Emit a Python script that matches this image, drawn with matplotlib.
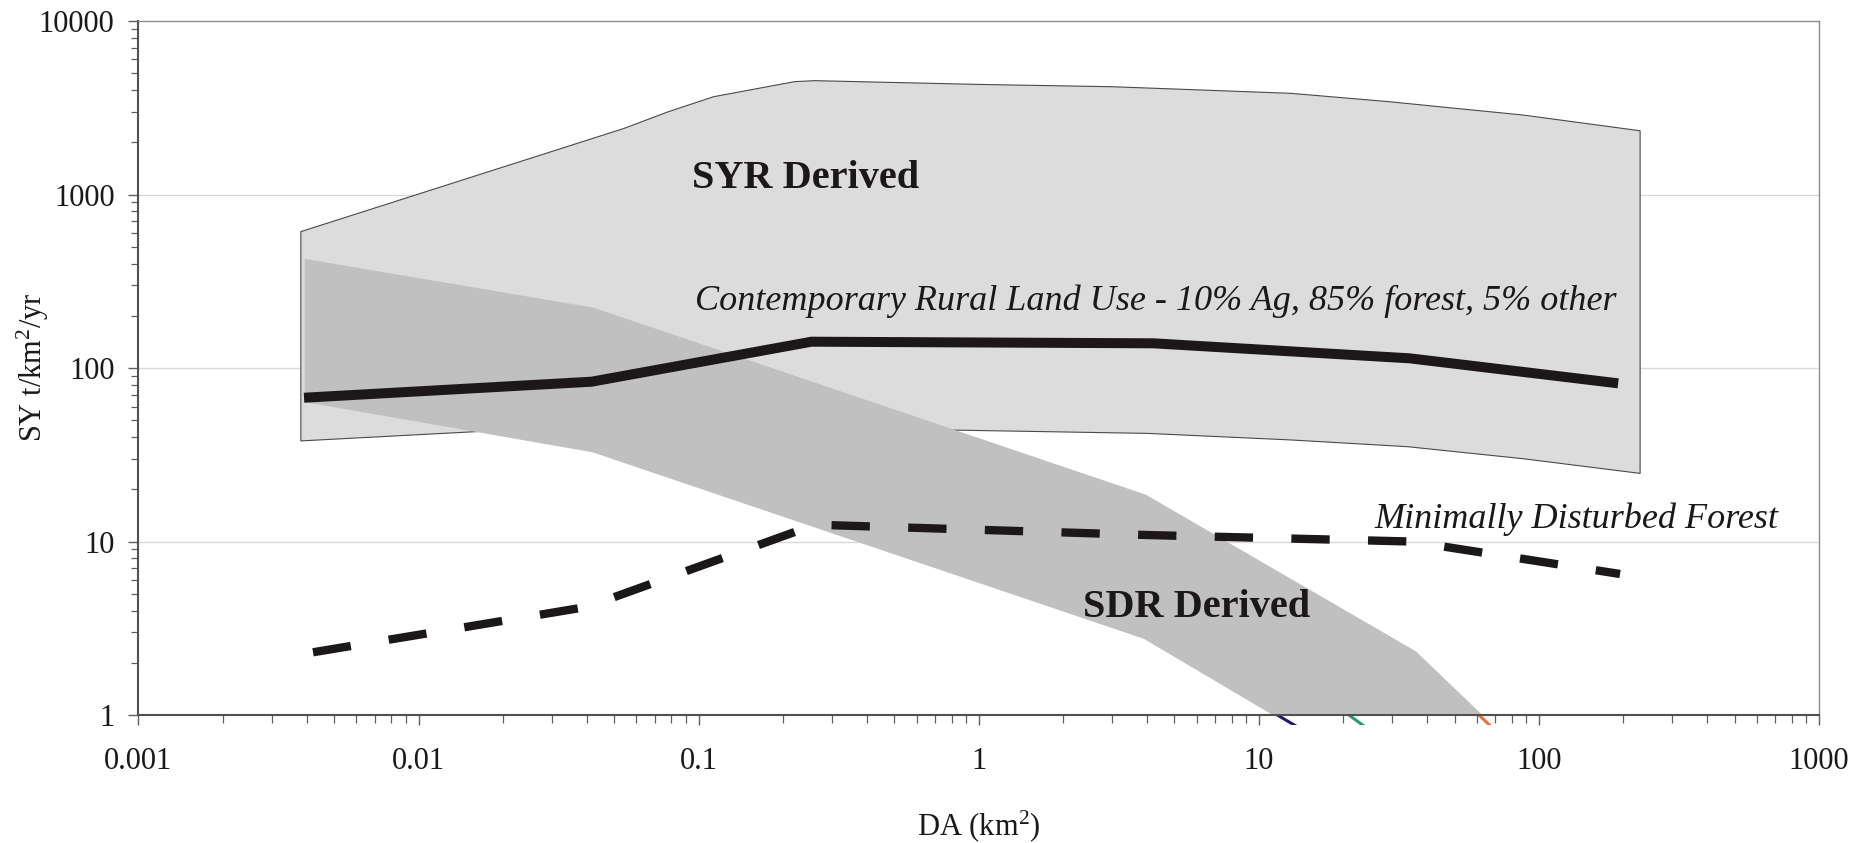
import matplotlib
matplotlib.use("Agg")
import matplotlib.pyplot as plt
from matplotlib.ticker import FixedLocator, FixedFormatter, LogLocator, NullFormatter
from matplotlib.transforms import Bbox, TransformedBbox

plt.rcParams['font.family'] = ['Liberation Serif', 'DejaVu Serif']
plt.rcParams['mathtext.fontset'] = 'custom'
plt.rcParams['mathtext.rm'] = 'Liberation Serif'
plt.rcParams['mathtext.it'] = 'Liberation Serif:italic'
plt.rcParams['mathtext.bf'] = 'Liberation Serif:bold'

# SYR derived envelope (upper / lower edges)
syr_up_da = [0.0038, 0.054, 0.078, 0.113, 0.22, 0.26, 1.0, 3.0, 13, 29, 88, 230]
syr_up_sy = [611, 2400, 3000, 3660, 4470, 4530, 4310, 4180, 3830, 3430, 2870, 2330]
syr_lo_da = [0.0038, 0.0175, 0.79, 4.0, 13, 34, 88, 230]
syr_lo_sy = [38, 43.3, 43.9, 42, 38.5, 35.2, 30, 24.7]

# SDR derived band (three series)
sdr_up_da = [0.004, 0.042, 3.92, 36, 200]
sdr_up_sy = [410, 216, 18.1, 2.27, 0.16]
sdr_mid_da = [0.004, 0.042, 3.92, 35]
sdr_mid_sy = [165, 85, 7.1, 0.55]
sdr_lo_da = [0.004, 0.042, 3.92, 35]
sdr_lo_sy = [65.4, 33.7, 2.83, 0.35]

# Contemporary rural land use
rural_da = [0.0039, 0.0415, 0.253, 4.2, 34.6, 192]
rural_sy = [67.4, 83.4, 141.8, 138.8, 113.7, 81.6]

# Minimally disturbed forest
forest_da = [0.0042, 0.04, 0.26, 4.0, 35, 195]
forest_sy = [2.3, 4.2, 12.5, 10.9, 10.0, 6.5]

xticks = [0.001, 0.01, 0.1, 1, 10, 100, 1000]
xtick_labels = ['0.001', '0.01', '0.1', '1', '10', '100', '1000']
yticks = [1, 10, 100, 1000, 10000]
ytick_labels = ['1', '10', '100', '1000', '10000']

fig = plt.figure(figsize=(18.56, 8.43), dpi=100)
ax = fig.add_axes([0.0746, 0.1518, 0.9054, 0.8233])
ax.set_xscale('log')
ax.set_yscale('log')
ax.set_xlim(1e-3, 1e3)
ax.set_ylim(1, 1e4)

# grid
for v in [10, 100, 1000]:
    ax.axhline(v, color='#d9d9d9', lw=1.0, zorder=0.5)

# SYR envelope
ax.fill(syr_up_da + syr_lo_da[::-1], syr_up_sy + syr_lo_sy[::-1],
        facecolor='#dcdcdc', edgecolor='#4a4a4a', lw=0.8, zorder=1)

# SDR series lines (hidden under the band, poke out just under the axis)
clip = TransformedBbox(Bbox([[0, -0.014], [1, 1]]), ax.transAxes)
for xs, ys, c in [(sdr_lo_da, sdr_lo_sy, '#1f1c6e'),
                  (sdr_mid_da, sdr_mid_sy, '#2e9b6b'),
                  (sdr_up_da, sdr_up_sy, '#e8743b')]:
    ln, = ax.plot(xs, ys, color=c, lw=2.2, solid_capstyle='butt', zorder=1.5)
    ln.set_clip_box(clip)

ax.fill(sdr_up_da + sdr_lo_da[::-1], sdr_up_sy + sdr_lo_sy[::-1],
        facecolor='#c0c0c0', edgecolor='#c0c0c0', lw=3.4, zorder=2)

ax.plot(rural_da, rural_sy, color='#1c1718', lw=7.2,
        solid_capstyle='butt', solid_joinstyle='miter', zorder=3)
ax.plot(forest_da, forest_sy, color='#1c1718', lw=6.0,
        dashes=(4.6, 4.6), dash_capstyle='butt', zorder=3)

# annotations
ax.text(0.0944, 1086, 'SYR Derived', fontsize=29, fontweight='bold',
        ha='left', va='baseline', color='#1c1718', zorder=4)
ax.text(2.36, 3.69, 'SDR Derived', fontsize=29, fontweight='bold',
        ha='left', va='baseline', color='#1c1718', zorder=4)
ax.text(0.097, 216, 'Contemporary Rural Land Use - 10% Ag, 85% forest, 5% other',
        fontsize=26, style='italic', ha='left', va='baseline',
        color='#1c1718', zorder=4)
ax.text(25.8, 11.9, 'Minimally Disturbed Forest', fontsize=26, style='italic',
        ha='left', va='baseline', color='#1c1718', zorder=4)

# axes styling
ax.xaxis.set_major_locator(FixedLocator(xticks))
ax.xaxis.set_major_formatter(FixedFormatter(xtick_labels))
ax.xaxis.set_minor_locator(LogLocator(base=10, subs=range(2, 10), numticks=20))
ax.xaxis.set_minor_formatter(NullFormatter())
ax.yaxis.set_major_locator(FixedLocator(yticks))
ax.yaxis.set_major_formatter(FixedFormatter(ytick_labels))
ax.yaxis.set_minor_locator(LogLocator(base=10, subs=range(2, 10), numticks=20))
ax.yaxis.set_minor_formatter(NullFormatter())

ax.tick_params(axis='both', which='major', direction='out', length=7.2,
               width=1.0, color='#606060', labelsize=22, labelcolor='#1c1718')
ax.tick_params(axis='both', which='minor', direction='out', length=5.4,
               width=0.9, color='#606060')
ax.tick_params(axis='x', which='major', pad=16)
ax.tick_params(axis='y', which='major', pad=10)

for side in ['left', 'bottom']:
    ax.spines[side].set_color('#505050')
    ax.spines[side].set_linewidth(1.5)
for side in ['top', 'right']:
    ax.spines[side].set_color('#8c8c8c')
    ax.spines[side].set_linewidth(1.0)
for s in ax.spines.values():
    s.set_zorder(5)

fig.text(33 / 1856, 0.565, r'SY t/km$^{2}$/yr', rotation=90, fontsize=22,
         ha='center', va='center', color='#1c1718')
fig.text(979 / 1856, 1 - 826 / 843, r'DA (km$^{2}$)', fontsize=22,
         ha='center', va='center', color='#1c1718')

fig.savefig('out.png', dpi=100, facecolor='white')
